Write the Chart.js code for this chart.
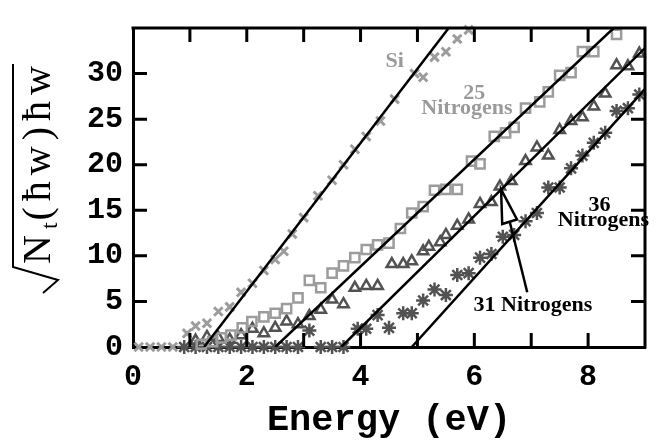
<!DOCTYPE html>
<html>
<head>
<meta charset="utf-8">
<script src="https://cdn.jsdelivr.net/npm/chart.js@4.4.1/dist/chart.umd.min.js"></script>
<style>
    html, body { margin: 0; padding: 0; background: #fff; }
    canvas { display: block; }
</style>
</head>
<body>
<canvas id="absorptionChart" width="657" height="441"></canvas>
<script>
// measured points, energy (eV) and sqrt(Nt)*hw
const siEnergy = [0.1, 0.3, 0.5, 0.7, 0.95, 1.1, 1.3, 1.5, 1.7, 1.9, 2.1, 2.3, 2.5, 2.65, 2.8, 3.0, 3.25, 3.5, 3.7, 3.9, 4.1, 4.35, 4.6, 4.95, 5.1, 5.3, 5.5, 5.7, 5.9];
const siValue = [0, 0, 0, 0, 1.5, 2.3, 2.6, 3.9, 4.4, 6.0, 7.0, 8.4, 9.6, 10.5, 12.4, 14.2, 16.6, 18.3, 20.0, 21.7, 23.1, 24.8, 27.2, 30.0, 29.6, 31.8, 32.4, 33.8, 34.8];

const n25Energy = [1.2, 1.4, 1.55, 1.72, 1.92, 2.09, 2.3, 2.5, 2.7, 2.9, 3.1, 3.3, 3.5, 3.7, 3.9, 4.1, 4.3, 4.5, 4.7, 4.9, 5.1, 5.3, 5.5, 5.7, 5.95, 6.1, 6.35, 6.55, 6.7, 6.9, 7.15, 7.3, 7.5, 7.7, 7.9, 8.1, 8.5];
const n25Value = [0.3, 0.6, 1.0, 1.3, 2.1, 2.8, 3.3, 3.7, 4.2, 5.4, 7.3, 6.5, 8.1, 8.9, 9.8, 10.7, 11.2, 11.4, 13.0, 14.7, 15.4, 17.2, 17.3, 17.3, 20.4, 20.1, 23.1, 23.5, 24.1, 26.2, 26.9, 28.0, 29.8, 30.1, 32.4, 32.4, 34.3];

const n31Energy = [1.1, 1.3, 1.5, 1.7, 1.9, 2.1, 2.3, 2.5, 2.7, 2.9, 3.1, 3.3, 3.5, 3.7, 3.9, 4.1, 4.3, 4.55, 4.75, 4.9, 5.1, 5.2, 5.4, 5.5, 5.7, 5.9, 6.1, 6.3, 6.45, 6.65, 6.9, 7.1, 7.3, 7.5, 7.7, 7.9, 8.1, 8.3, 8.5, 8.7, 8.9];
const n31Value = [0.7, 1.1, 1.0, 0.8, 1.3, 2.0, 1.5, 2.1, 2.8, 2.5, 3.4, 4.1, 5.2, 4.7, 6.5, 6.7, 6.7, 9.1, 9.1, 9.4, 10.5, 11.0, 11.5, 12.3, 13.3, 14.0, 15.7, 15.9, 17.6, 18.2, 20.4, 21.9, 21.0, 23.8, 24.8, 25.2, 26.4, 27.8, 30.9, 30.8, 32.2];

const n36Energy = [0.9, 1.1, 1.3, 1.5, 1.7, 1.9, 2.1, 2.3, 2.5, 2.7, 2.9, 3.1, 3.3, 3.5, 3.7, 3.95, 4.1, 4.3, 4.5, 4.75, 4.9, 5.1, 5.3, 5.5, 5.7, 5.9, 6.1, 6.3, 6.5, 6.7, 6.9, 7.1, 7.3, 7.5, 7.7, 7.9, 8.1, 8.3, 8.5, 8.7, 8.9];
const n36Value = [0, 0, 0, 0, 0, 0, 0, 0, 0, 0, 0, 1.8, 0, 0, 0, 2.0, 2.0, 3.5, 2.1, 3.7, 3.7, 5.1, 6.3, 5.7, 7.9, 8.1, 9.8, 10.2, 12.1, 12.3, 13.8, 14.7, 17.5, 17.5, 19.6, 21.0, 22.4, 23.5, 25.9, 26.2, 27.7];

// straight line fits, [energy, value] end points
const siFit = [[1.25, 0], [5.55, 35]];
const n25Fit = [[2.5, 0], [8.45, 35]];
const n31Fit = [[3.66, 0], [9, 32.8]];
const n36Fit = [[4.9, 0], [9, 28.3]];

const yTitleParts = [
    { text: 'N' },
    { text: 't', sub: true },
    { text: '(' },
    { text: 'ħ' },
    { text: 'w' },
    { text: ')' },
    { text: 'ħ' },
    { text: 'w' }
];

// labels on the plot, placed in data units
const annotations = [
    { text: 'Si', x: 4.6, y: 31.3, color: '#9a9a9a' },
    { text: '25', x: 6.0, y: 27.8, color: '#9a9a9a' },
    { text: 'Nitrogens', x: 5.87, y: 26.2, color: '#9a9a9a' },
    { text: '36', x: 8.2, y: 15.6, color: '#000' },
    { text: 'Nitrogens', x: 8.27, y: 13.9, color: '#000' },
    { text: '31 Nitrogens', x: 7.03, y: 4.6, color: '#000' }
];
const arrowHead = [[6.47, 17.3], [6.49, 13.5], [6.75, 14.0]];
const arrowTail = [[6.62, 13.8], [6.93, 6.0]];

function toPoints(xs, ys) {
    return xs.map((x, i) => ({ x: x, y: ys[i] }));
}
function fitPoints(pairs) {
    return pairs.map(p => ({ x: p[0], y: p[1] }));
}

const lightGray = '#9c9c9c';
const darkGray = '#525252';

const framePlugin = {
    id: 'frame',
    afterDraw(chart) {
        const ctx = chart.ctx;
        const area = chart.chartArea;
        const xs = chart.scales.x;
        const ys = chart.scales.y;

        ctx.save();
        ctx.strokeStyle = '#000';
        ctx.lineWidth = 3;
        ctx.lineCap = 'butt';
        // top and right edges of the box
        ctx.beginPath();
        ctx.moveTo(area.left - 1.5, area.top);
        ctx.lineTo(area.right, area.top);
        ctx.lineTo(area.right, area.bottom + 1.5);
        ctx.stroke();

        // inward tick marks on all four sides
        const len = 14;
        ctx.beginPath();
        xs.ticks.forEach(t => {
            if (t.value <= xs.min || t.value >= xs.max) return;
            const px = xs.getPixelForValue(t.value);
            ctx.moveTo(px, area.bottom);
            ctx.lineTo(px, area.bottom - len);
            ctx.moveTo(px, area.top);
            ctx.lineTo(px, area.top + len);
        });
        ys.ticks.forEach(t => {
            if (t.value <= ys.min || t.value >= ys.max) return;
            const py = ys.getPixelForValue(t.value);
            ctx.moveTo(area.left, py);
            ctx.lineTo(area.left + len, py);
            ctx.moveTo(area.right, py);
            ctx.lineTo(area.right - len, py);
        });
        ctx.stroke();

        // text labels
        ctx.font = 'bold 22px "Liberation Serif"';
        ctx.textAlign = 'center';
        ctx.textBaseline = 'middle';
        annotations.forEach(a => {
            ctx.fillStyle = a.color;
            ctx.fillText(a.text, xs.getPixelForValue(a.x), ys.getPixelForValue(a.y));
        });

        // open arrow from "31 Nitrogens"
        ctx.lineWidth = 2.5;
        ctx.strokeStyle = '#000';
        ctx.beginPath();
        ctx.moveTo(xs.getPixelForValue(arrowTail[0][0]), ys.getPixelForValue(arrowTail[0][1]));
        ctx.lineTo(xs.getPixelForValue(arrowTail[1][0]), ys.getPixelForValue(arrowTail[1][1]));
        ctx.stroke();
        ctx.beginPath();
        arrowHead.forEach((p, i) => {
            const px = xs.getPixelForValue(p[0]);
            const py = ys.getPixelForValue(p[1]);
            if (i === 0) ctx.moveTo(px, py); else ctx.lineTo(px, py);
        });
        ctx.closePath();
        ctx.fillStyle = '#fff';
        ctx.fill();
        ctx.stroke();

        // y axis title: sqrt( Nt(hw) ) hw
        ctx.translate(37, 180);
        ctx.rotate(-Math.PI / 2);
        ctx.fillStyle = '#000';
        ctx.textAlign = 'left';
        ctx.textBaseline = 'alphabetic';
        const bigFont = '40px "Liberation Serif"';
        const smallFont = '24px "Liberation Serif"';
        const widths = yTitleParts.map(p => {
            ctx.font = p.sub ? smallFont : bigFont;
            return ctx.measureText(p.text).width;
        });
        const start = -84;
        const end = 114;
        const sum = widths.reduce((a, b) => a + b, 0);
        const gap = (end - start - sum) / (yTitleParts.length - 1.7);
        let cx = start;
        yTitleParts.forEach((p, i) => {
            ctx.font = p.sub ? smallFont : bigFont;
            ctx.fillText(p.text, cx, p.sub ? 20 : 13);
            cx += widths[i] + (p.sub ? gap * 0.3 : gap);
        });
        ctx.lineWidth = 2;
        ctx.beginPath();
        ctx.moveTo(end + 2, -24);
        ctx.lineTo(start - 3, -24);
        ctx.lineTo(start - 16, 21);
        ctx.lineTo(start - 29, 6);
        ctx.stroke();
        ctx.restore();
    }
};

const ctx = document.getElementById('absorptionChart').getContext('2d');

const fitStyle = {
    showLine: true,
    pointRadius: 0,
    borderColor: '#000',
    borderWidth: 2.5,
    fill: false,
    order: 0
};

const absorptionChart = new Chart(ctx, {
    type: 'scatter',
    data: {
        datasets: [
            Object.assign({ label: 'Si fit', data: fitPoints(siFit) }, fitStyle),
            Object.assign({ label: '25 fit', data: fitPoints(n25Fit) }, fitStyle),
            Object.assign({ label: '31 fit', data: fitPoints(n31Fit) }, fitStyle),
            Object.assign({ label: '36 fit', data: fitPoints(n36Fit) }, fitStyle),
            {
                label: 'Si',
                data: toPoints(siEnergy, siValue),
                pointStyle: 'crossRot',
                pointRadius: 6,
                borderColor: lightGray,
                borderWidth: 3,
                clip: false,
                order: 1
            },
            {
                label: '25 Nitrogens',
                data: toPoints(n25Energy, n25Value),
                pointStyle: 'rect',
                pointRadius: 6.5,
                borderColor: lightGray,
                backgroundColor: 'rgba(0,0,0,0)',
                borderWidth: 2.5,
                clip: false,
                order: 1
            },
            {
                label: '31 Nitrogens',
                data: toPoints(n31Energy, n31Value),
                pointStyle: 'triangle',
                pointRadius: 6,
                borderColor: darkGray,
                backgroundColor: 'rgba(0,0,0,0)',
                borderWidth: 2.5,
                clip: false,
                order: 1
            },
            {
                label: '36 Nitrogens',
                data: toPoints(n36Energy, n36Value),
                pointStyle: 'star',
                pointRadius: 7,
                borderColor: darkGray,
                borderWidth: 2.5,
                clip: false,
                order: 1
            }
        ]
    },
    options: {
        responsive: false,
        animation: false,
        layout: {
            padding: { left: 0, right: 7, top: 13, bottom: 0 }
        },
        plugins: {
            legend: { display: false },
            tooltip: { enabled: false }
        },
        scales: {
            x: {
                type: 'linear',
                min: 0,
                max: 9,
                grid: { display: false, drawTicks: false },
                border: { display: true, color: '#000', width: 3 },
                ticks: {
                    stepSize: 1,
                    autoSkip: false,
                    maxRotation: 0,
                    padding: 12,
                    color: '#000',
                    font: { family: 'Liberation Mono', size: 30, weight: 'bold' },
                    callback: v => (v % 2 === 0 ? v : '')
                },
                title: {
                    display: true,
                    text: 'Energy (eV)',
                    color: '#000',
                    padding: { top: 0, bottom: -2 },
                    font: { family: 'Liberation Mono', size: 37, weight: 'bold' }
                },
                afterFit: scale => { scale.height = 94; }
            },
            y: {
                type: 'linear',
                min: 0,
                max: 35,
                grid: { display: false, drawTicks: false },
                border: { display: true, color: '#000', width: 3 },
                ticks: {
                    stepSize: 5,
                    padding: 10,
                    color: '#000',
                    font: { family: 'Liberation Mono', size: 30, weight: 'bold' },
                    callback: v => (v <= 30 ? v : '')
                },
                afterFit: scale => { scale.width = 133; }
            }
        }
    },
    plugins: [framePlugin]
});
</script>
</body>
</html>
